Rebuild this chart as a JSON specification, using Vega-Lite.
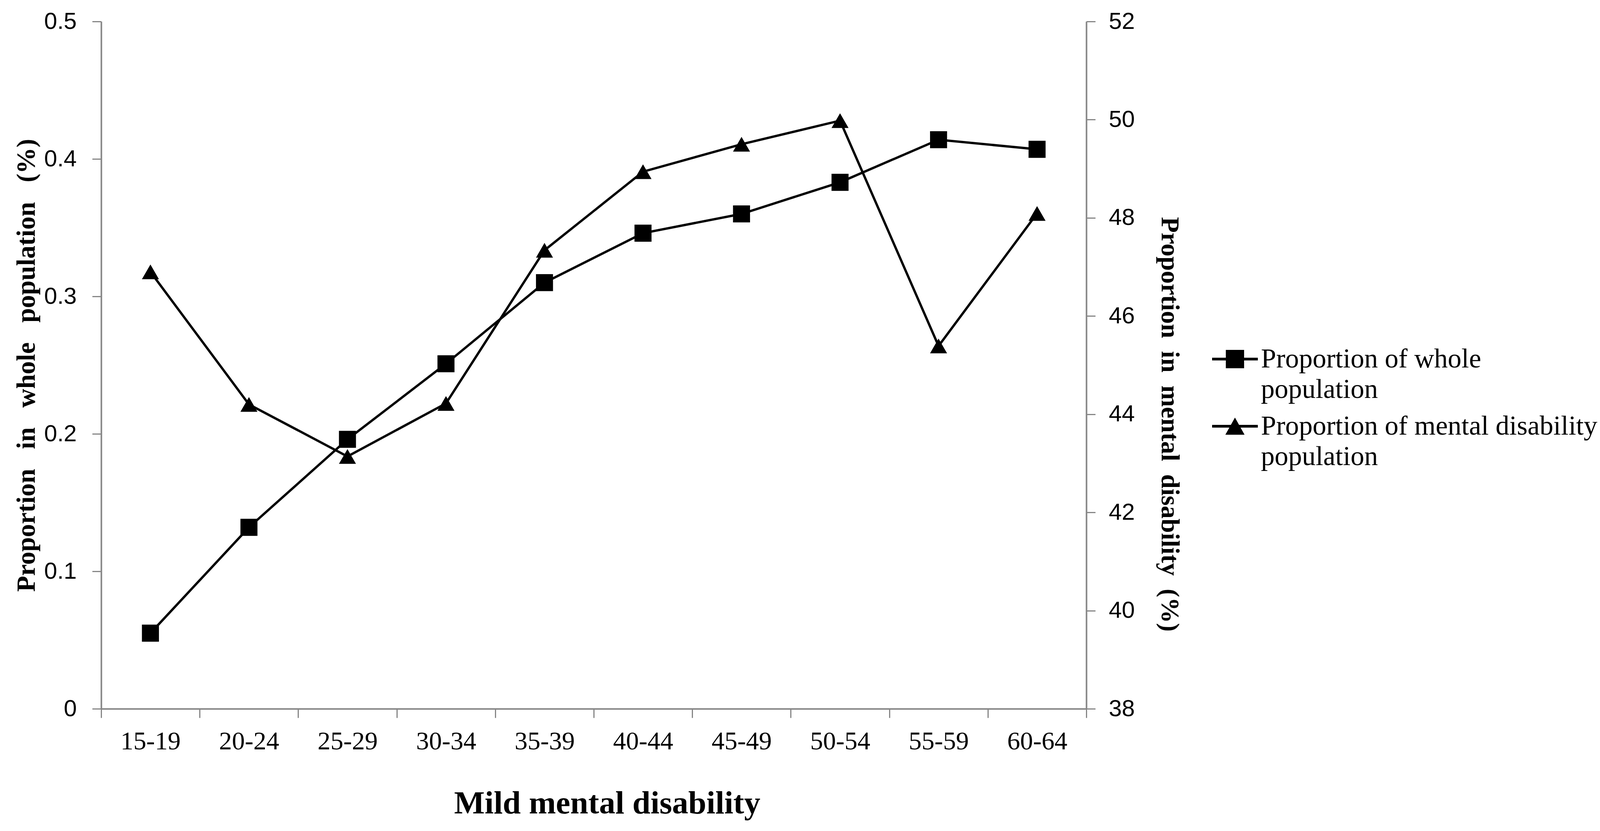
{
  "$schema": "https://vega.github.io/schema/vega-lite/v6.json",
  "width": 2522,
  "height": 1760,
  "autosize": {"type": "none"},
  "padding": {"left": 259, "top": 55, "right": 1321, "bottom": 313},
  "background": "white",
  "data": {
    "values": [
      {"age": "15-19", "series": "Proportion of whole population", "value": 0.055},
      {"age": "20-24", "series": "Proportion of whole population", "value": 0.132},
      {"age": "25-29", "series": "Proportion of whole population", "value": 0.196},
      {"age": "30-34", "series": "Proportion of whole population", "value": 0.251},
      {"age": "35-39", "series": "Proportion of whole population", "value": 0.310},
      {"age": "40-44", "series": "Proportion of whole population", "value": 0.346},
      {"age": "45-49", "series": "Proportion of whole population", "value": 0.360},
      {"age": "50-54", "series": "Proportion of whole population", "value": 0.383},
      {"age": "55-59", "series": "Proportion of whole population", "value": 0.414},
      {"age": "60-64", "series": "Proportion of whole population", "value": 0.407},
      {"age": "15-19", "series": "Proportion of mental disability population", "value": 46.90},
      {"age": "20-24", "series": "Proportion of mental disability population", "value": 44.20},
      {"age": "25-29", "series": "Proportion of mental disability population", "value": 43.14},
      {"age": "30-34", "series": "Proportion of mental disability population", "value": 44.22},
      {"age": "35-39", "series": "Proportion of mental disability population", "value": 47.34},
      {"age": "40-44", "series": "Proportion of mental disability population", "value": 48.94},
      {"age": "45-49", "series": "Proportion of mental disability population", "value": 49.50},
      {"age": "50-54", "series": "Proportion of mental disability population", "value": 49.98},
      {"age": "55-59", "series": "Proportion of mental disability population", "value": 45.39},
      {"age": "60-64", "series": "Proportion of mental disability population", "value": 48.09}
    ]
  },
  "layer": [
    {
      "transform": [{"filter": "datum.series == 'Proportion of whole population'"}],
      "encoding": {
        "x": {
          "field": "age",
          "type": "ordinal",
          "sort": null,
          "scale": {"type": "band", "paddingInner": 0, "paddingOuter": 0},
          "axis": {
            "title": "Mild mental disability",
            "titleX": 1295,
            "labelAngle": 0,
            "tickBand": "extent",
            "tickExtra": true,
            "domainColor": "#868686",
            "domainWidth": 4,
            "tickColor": "#868686",
            "tickWidth": 3,
            "tickSize": 23,
            "labelFont": "Liberation Serif",
            "labelFontSize": 66,
            "labelColor": "black",
            "labelPadding": 28,
            "titleFont": "Liberation Serif",
            "titleFontWeight": "bold",
            "titleFontSize": 83,
            "titleColor": "black",
            "titlePadding": 85
          }
        },
        "y": {
          "field": "value",
          "type": "quantitative",
          "scale": {"domain": [0, 0.5], "nice": false, "zero": false},
          "axis": {
            "orient": "left",
            "title": "Proportion\u00a0\u00a0\u00a0in\u00a0\u00a0\u00a0whole\u00a0\u00a0\u00a0population\u00a0\u00a0\u00a0(%)",
            "values": [0, 0.1, 0.2, 0.3, 0.4, 0.5],
            "format": "~g",
            "grid": false,
            "domainColor": "#868686",
            "domainWidth": 4,
            "tickColor": "#868686",
            "tickWidth": 3,
            "tickSize": 23,
            "labelFont": "Liberation Sans",
            "labelFontSize": 60,
            "labelColor": "black",
            "labelPadding": 40,
            "titleFont": "Liberation Serif",
            "titleFontWeight": "bold",
            "titleFontSize": 67,
            "titleColor": "black",
            "titlePadding": 10
          }
        }
      },
      "layer": [
        {"mark": {"type": "line", "color": "black", "strokeWidth": 6}},
        {"mark": {"type": "point", "shape": "square", "filled": true, "color": "black", "opacity": 1, "size": 1900}}
      ]
    },
    {
      "transform": [{"filter": "datum.series == 'Proportion of mental disability population'"}],
      "encoding": {
        "x": {"field": "age", "type": "ordinal", "sort": null},
        "y": {
          "field": "value",
          "type": "quantitative",
          "scale": {"domain": [38, 52], "nice": false, "zero": false},
          "axis": {
            "orient": "right",
            "title": "Proportion\u00a0\u00a0in\u00a0\u00a0mental\u00a0\u00a0disability\u00a0\u00a0(%)",
            "titleY": 1031,
            "values": [38, 40, 42, 44, 46, 48, 50, 52],
            "grid": false,
            "domainColor": "#868686",
            "domainWidth": 4,
            "tickColor": "#868686",
            "tickWidth": 3,
            "tickSize": 23,
            "labelFont": "Liberation Sans",
            "labelFontSize": 60,
            "labelColor": "black",
            "labelPadding": 34,
            "titleFont": "Liberation Serif",
            "titleFontWeight": "bold",
            "titleFontSize": 66,
            "titleColor": "black",
            "titlePadding": 55
          }
        }
      },
      "layer": [
        {"mark": {"type": "line", "color": "black", "strokeWidth": 6}},
        {"mark": {"type": "point", "shape": "triangle-up", "filled": true, "color": "black", "opacity": 1, "size": 1900}}
      ]
    },
    {
      "mark": {"type": "point", "filled": true, "color": "black", "size": 0},
      "encoding": {
        "shape": {
          "field": "series",
          "type": "nominal",
          "scale": {
            "domain": ["Proportion of whole population", "Proportion of mental disability population"],
            "range": [
              "M-1,-0.06H1V0.06H-1Z M-0.4,-0.4H0.4V0.4H-0.4Z",
              "M-1,-0.06H1V0.06H-1Z M0,-0.38L0.42,0.37L-0.42,0.37Z"
            ]
          },
          "legend": {
            "title": null,
            "orient": "none",
            "legendX": 2844,
            "legendY": 806,
            "padding": 0,
            "symbolSize": 13689,
            "symbolFillColor": "black",
            "symbolStrokeWidth": 0,
            "symbolOpacity": 1,
            "labelFont": "Liberation Serif",
            "labelFontSize": 70,
            "labelColor": "black",
            "labelLimit": 2000,
            "labelOffset": 8,
            "rowPadding": -5,
            "labelExpr": "datum.value == 'Proportion of whole population' ? ['Proportion of whole', 'population'] : ['Proportion of mental disability', 'population']"
          }
        }
      }
    }
  ],
  "resolve": {"scale": {"y": "independent"}},
  "config": {
    "view": {"stroke": null},
    "axis": {"labelOverlap": false},
    "style": {"guide-label": {"lineHeight": 78}}
  }
}
